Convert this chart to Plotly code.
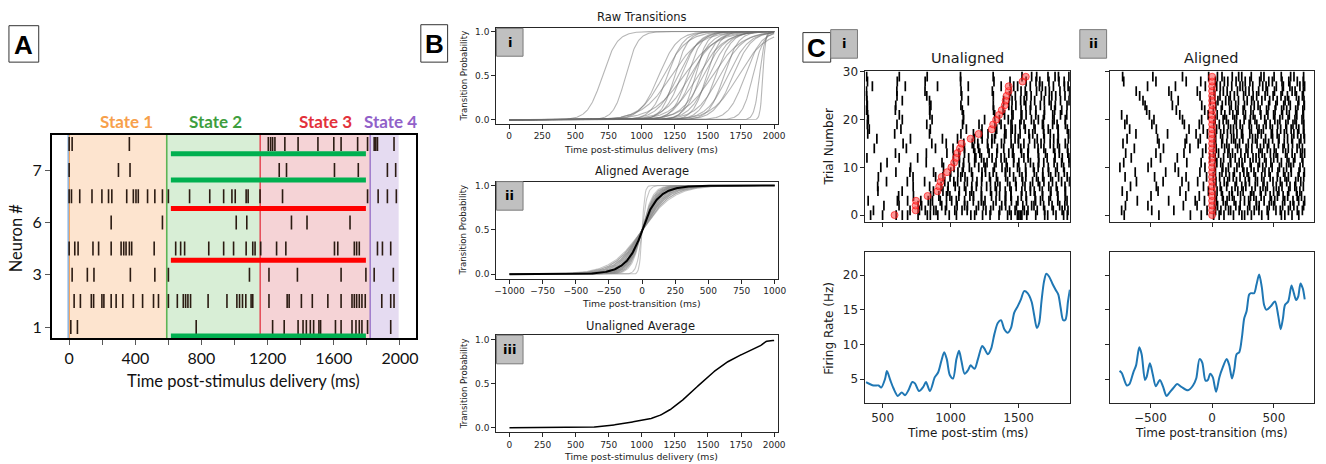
import numpy as np
import plotly.graph_objects as go

W, H = 1326, 464

# ======================= DATA =======================
# ---- Panel A: spike raster of 8 neurons (ms) ----
neuron_spikes_ms = [
    [10, 50, 768, 1230, 1300, 1384, 1414, 1434, 1458, 1478, 1510, 1520, 1610, 1644, 1710, 1734, 1754, 1770, 1804, 1944],
    [30, 68, 134, 148, 198, 210, 254, 284, 324, 388, 444, 510, 540, 600, 654, 690, 704, 718, 734, 840, 954, 1014, 1030,
     1048, 1068, 1100, 1110, 1208, 1318, 1330, 1404, 1470, 1564, 1644, 1710, 1724, 1738, 1754, 1770, 1790, 1890, 1944, 1964],
    [18, 110, 150, 370, 518, 600, 1090, 1208, 1380, 1644, 1794, 1844, 1960],
    [0, 34, 54, 144, 178, 254, 314, 330, 344, 364, 378, 514, 644, 674, 698, 844, 934, 994, 1070, 1110, 1124, 1158, 1254,
     1310, 1604, 1624, 1724, 1738, 1754, 1864, 1894, 1944],
    [254, 564, 1010, 1074, 1344, 1438, 1698],
    [0, 14, 64, 138, 198, 238, 258, 348, 388, 404, 418, 474, 518, 564, 600, 728, 850, 934, 984, 1004, 1070, 1082, 1154,
     1290, 1804, 1868, 1924, 1978],
    [0, 298, 368, 1270, 1314, 1604, 1748, 1924, 1974],
    [0, 18, 364, 1204, 1218, 1230, 1244, 1304, 1384, 1504, 1600, 1644, 1744, 1804, 1844, 1854, 1864, 1964],
]
neuron_tickvals = [1, 3, 5, 7]
neuron_ticktext = ["1", "3", "6", "7"]
a_xticks = [0, 400, 800, 1200, 1600, 2000]
a_minor_ticks = [200, 600, 1000, 1400, 1800]

state_names = ["State 1", "State 2", "State 3", "State 4"]
state_starts = [0, 590, 1155, 1820]
state_ends = [590, 1155, 1820, 1992]
state_label_x = [348, 884, 1550, 1944]
state_fill = ["#fde4cf", "#d8eed6", "#f5d3d6", "#e5dbf1"]
state_line = ["#f3a35c", "#5db456", "#e5505c", "#a27fcd"]
state_text = ["#f7a04b", "#3e9e3e", "#e3313b", "#9161c9"]
stim_line_ms = -6
stim_line_color = "#86b3e3"

bar_rows = [7.62, 6.62, 5.53, 3.55, 0.66]
bar_colors = ["#00b050", "#00b050", "#ff0000", "#ff0000", "#00b050"]
bar_start_ms = 615
bar_end_ms = 1794

# ---- Panel B: per-trial transition curves (centre ms, width ms) ----
trans_centers = [705, 880, 1130, 1165, 1195, 1225, 1250, 1275, 1300, 1320, 1345, 1365, 1385, 1405, 1425,
                 1445, 1465, 1490, 1510, 1535, 1560, 1590, 1620, 1650, 1690, 1730, 1780, 1840, 1890, 1915]
trans_widths = [55, 45, 70, 90, 60, 110, 50, 80, 65, 120, 55, 95, 70, 45, 100,
                60, 85, 50, 75, 110, 60, 90, 55, 80, 70, 100, 60, 40, 20, 10]
b_time_grid = np.arange(0, 2001, 5)
b_aligned_grid = np.arange(-1000, 1001, 5)

# ---- Panel C: 30 trials, transition time and spike offsets from transition (ms) ----
trial_transition = [588, 743, 743, 746, 831, 904, 916, 926, 935, 974, 1006, 1026, 1040, 1050, 1069,
                    1081, 1147, 1206, 1303, 1313, 1335, 1356, 1376, 1398, 1405, 1412, 1427, 1427, 1529, 1553]
trial_spike_offsets = [
    [-712, -431, -176, -88, 12, 57, 96, 173, 241, 263, 318, 402, 455, 561, 589, 647, 702, 768, 831, 857, 903, 914, 925, 936, 972, 1038, 1104, 1126, 1187, 1243, 1270],
    [-733, -489, -310, -41, 28, 71, 133, 150, 219, 288, 341, 379, 446, 517, 552, 618, 690, 731, 799, 826, 894, 948, 1012, 1077, 1120],
    [-702, -520, -233, -122, 18, 44, 109, 192, 227, 305, 360, 381, 462, 498, 571, 633, 662, 741, 788, 853, 870, 941, 1003, 1059, 1097],
    [-606, -352, -137, -62, 35, 90, 121, 178, 262, 296, 357, 421, 480, 507, 588, 655, 701, 749, 812, 879, 915, 977, 1042, 1110],
    [-690, -495, -213, -104, 22, 83, 139, 164, 230, 311, 338, 397, 470, 529, 575, 612, 689, 724, 790, 846, 903, 958, 1011],
    [-728, -438, -260, -30, 40, 75, 160, 208, 251, 322, 390, 433, 498, 541, 620, 683, 711, 770, 834, 880, 941],
    [-661, -452, -191, -70, 14, 66, 118, 186, 240, 273, 349, 412, 447, 520, 566, 631, 670, 739, 806, 861, 925],
    [-613, -397, -244, -117, 31, 98, 126, 197, 268, 302, 367, 420, 493, 552, 604, 677, 718, 760, 823, 890, 948],
    [-705, -466, -211, -45, 9, 61, 140, 171, 226, 295, 351, 402, 470, 528, 590, 618, 697, 742, 801, 859, 922],
    [-623, -376, -273, -99, 27, 80, 112, 180, 257, 283, 339, 428, 461, 533, 579, 641, 704, 747, 798, 862],
    [-747, -519, -300, -58, 19, 87, 132, 201, 248, 316, 372, 410, 486, 545, 603, 638, 712, 778, 825],
    [-716, -493, -205, -89, 38, 70, 151, 219, 242, 308, 383, 437, 476, 561, 622, 659, 735, 790, 845],
    [-655, -418, -282, -19, 25, 93, 146, 187, 265, 331, 356, 425, 499, 530, 607, 670, 728, 781, 830],
    [-700, -455, -228, -77, 11, 52, 128, 165, 233, 290, 378, 405, 472, 518, 595, 648, 716, 749, 812],
    [-630, -394, -180, -51, 33, 101, 137, 206, 275, 322, 391, 447, 503, 574, 617, 688, 731, 790],
    [-722, -430, -219, -113, 16, 78, 119, 190, 222, 293, 364, 418, 458, 537, 584, 651, 706, 762],
    [-689, -442, -207, -96, 29, 85, 157, 176, 249, 327, 351, 433, 490, 542, 611, 645, 719, 748],
    [-815, -617, -361, -130, -38, 20, 69, 124, 201, 238, 305, 370, 398, 479, 527, 585, 662, 693, 744],
    [-901, -668, -452, -187, -72, 36, 95, 150, 173, 246, 318, 380, 415, 488, 555, 603, 640, 702, 739],
    [-925, -707, -488, -225, -104, 13, 58, 131, 196, 227, 300, 362, 437, 470, 531, 597, 655, 682, 743],
    [-940, -690, -471, -240, -85, 24, 89, 116, 183, 259, 310, 347, 426, 508, 549, 615, 671, 728],
    [-966, -733, -508, -262, -32, 41, 103, 168, 199, 270, 333, 395, 452, 498, 570, 625, 686, 740],
    [-995, -782, -530, -290, -60, 10, 74, 142, 210, 251, 314, 389, 441, 510, 563, 604, 677, 735],
    [-1010, -801, -543, -322, -84, 30, 82, 155, 191, 262, 341, 372, 458, 516, 580, 633, 695, 747],
    [-1020, -760, -560, -275, -15, 47, 110, 136, 213, 284, 320, 403, 466, 527, 591, 620, 702, 744],
    [-1030, -806, -587, -330, -98, 21, 64, 147, 180, 255, 332, 361, 429, 494, 558, 610, 683, 731],
    [-1045, -822, -615, -350, -120, 15, 91, 122, 205, 271, 299, 377, 448, 505, 569, 648, 672, 739],
    [-1002, -760, -523, -297, -55, 37, 66, 159, 226, 247, 329, 410, 437, 520, 577, 630, 711, 749],
    [-1140, -921, -716, -455, -210, -92, 26, 99, 127, 194, 268, 306, 385, 459, 488, 566, 621, 690, 738],
    [-1170, -930, -725, -480, -240, -28, 43, 80, 163, 215, 240, 317, 396, 420, 502, 560, 636, 663, 741],
]
aligned_window_ms = 750

rate_unaligned_t = [378, 434, 471, 490, 519, 532, 556, 580, 612, 641, 665, 690, 719, 738, 768, 799, 819, 848, 884, 909,
                    933, 953, 972, 994, 1018, 1043, 1062, 1079, 1103, 1128, 1147, 1176, 1201, 1232, 1249, 1274, 1298,
                    1322, 1347, 1371, 1395, 1420, 1444, 1468, 1493, 1517, 1541, 1566, 1595, 1614, 1634, 1651, 1668,
                    1687, 1704, 1724, 1748, 1772, 1792, 1809, 1828, 1845, 1863, 1877]
rate_unaligned_hz = [4.6, 4.1, 4.1, 3.8, 5.1, 6.2, 4.9, 3.7, 2.6, 3.1, 2.7, 3.4, 4.6, 4.4, 3.3, 3.9, 4.6, 3.3, 5.3, 6.0,
                     7.7, 8.9, 7.9, 5.6, 5.1, 7.9, 9.1, 7.7, 5.8, 6.3, 7.0, 6.5, 7.9, 9.8, 9.4, 8.6, 9.4, 11.5, 13.1,
                     13.5, 12.2, 11.7, 12.4, 14.6, 15.5, 16.5, 17.7, 17.4, 16.2, 14.3, 12.4, 13.1, 16.2, 19.1, 20.2,
                     19.8, 18.8, 17.9, 17.2, 15.3, 13.5, 13.6, 16.2, 17.9]
rate_aligned_t = [-750, -732, -691, -670, -638, -616, -590, -571, -544, -531, -504, -482, -456, -423, -397, -370, -348,
                  -316, -284, -249, -196, -155, -129, -102, -80, -54, -35, -16, 5, 32, 59, 86, 118, 139, 161, 180,
                  198, 220, 241, 260, 279, 300, 314, 340, 359, 381, 402, 421, 440, 474, 509, 536, 555, 574, 590,
                  616, 643, 662, 681, 697, 716, 734, 750]
rate_aligned_hz = [6.2, 5.9, 4.1, 4.3, 6.0, 7.0, 9.6, 8.6, 4.9, 5.3, 7.3, 5.8, 4.0, 4.9, 3.9, 2.6, 3.0, 3.7, 4.3, 3.9,
                   3.4, 4.1, 5.1, 7.9, 7.4, 4.8, 4.9, 5.8, 5.3, 3.2, 5.3, 6.7, 7.9, 7.0, 5.1, 6.5, 8.6, 8.9, 11.0,
                   13.8, 14.8, 17.2, 17.4, 17.4, 18.6, 20.1, 18.3, 15.7, 15.0, 15.5, 16.2, 14.1, 12.2, 13.8, 15.7,
                   16.2, 18.5, 17.4, 16.4, 16.9, 18.8, 18.1, 16.5]

# ======================= HELPERS =======================
def dx(l, r):
    return [l / W, r / W]

def dy(top, bottom):
    return [1 - bottom / H, 1 - top / H]

def px(x):
    return x / W

def py(y):
    return 1 - y / H

def logistic(t, c, w):
    return 1.0 / (1.0 + np.exp(-(t - c) / w))

DV = "DejaVu Sans"
LATO = "Lato"
INK = "#262626"

def mpl_axis(size=9, **kw):
    d = dict(showline=True, mirror=True, linecolor=INK, linewidth=1, ticks="outside", ticklen=4, tickwidth=1,
             tickcolor=INK, showgrid=False, zeroline=False,
             tickfont=dict(family=DV, size=size, color=INK))
    d.update(kw)
    return d

fig = go.Figure()
shapes = []
annotations = []

# ======================= PANEL A =======================
for i in range(4):
    shapes.append(dict(type="rect", xref="x", yref="y domain", x0=state_starts[i], x1=state_ends[i], y0=0, y1=1,
                       fillcolor=state_fill[i], line=dict(width=0), layer="below"))
    shapes.append(dict(type="line", xref="x", yref="y domain", x0=state_starts[i], x1=state_starts[i], y0=0, y1=1,
                       line=dict(color=state_line[i], width=1.6), layer="below"))
    annotations.append(dict(text="<b>%s</b>" % state_names[i], xref="x", yref="paper", x=state_label_x[i],
                            y=py(117), showarrow=False, font=dict(family=LATO, size=17, color=state_text[i]),
                            xanchor="center", yanchor="middle"))
shapes.append(dict(type="line", xref="x", yref="y domain", x0=stim_line_ms, x1=stim_line_ms, y0=0, y1=1,
                   line=dict(color=stim_line_color, width=1.4), layer="below"))

ax_x, ax_y = [], []
for r, spikes in enumerate(neuron_spikes_ms):
    ax_x += spikes
    ax_y += [r + 1] * len(spikes)
fig.add_trace(go.Scatter(x=ax_x, y=ax_y, mode="markers", xaxis="x", yaxis="y",
                         marker=dict(symbol="line-ns", size=10, line=dict(width=1.6, color="#2b1b12")),
                         hoverinfo="skip"))
for row, col in zip(bar_rows, bar_colors):
    fig.add_trace(go.Scatter(x=[bar_start_ms, bar_end_ms], y=[row, row], mode="lines", xaxis="x", yaxis="y",
                             line=dict(color=col, width=5), hoverinfo="skip"))

# ======================= PANEL B =======================
raw_curves = [logistic(b_time_grid, c, w) for c, w in zip(trans_centers, trans_widths)]
aligned_curves = [logistic(b_aligned_grid, 0.0, w) for w in trans_widths]
for cur in raw_curves:
    fig.add_trace(go.Scatter(x=b_time_grid, y=cur, mode="lines", xaxis="x2", yaxis="y2",
                             line=dict(color="rgba(110,110,110,0.5)", width=1.1), hoverinfo="skip"))
for cur in aligned_curves:
    fig.add_trace(go.Scatter(x=b_aligned_grid, y=cur, mode="lines", xaxis="x3", yaxis="y3",
                             line=dict(color="rgba(140,140,140,0.5)", width=1.1), hoverinfo="skip"))
fig.add_trace(go.Scatter(x=b_aligned_grid, y=np.mean(aligned_curves, axis=0), mode="lines", xaxis="x3", yaxis="y3",
                         line=dict(color="black", width=2), hoverinfo="skip"))
fig.add_trace(go.Scatter(x=b_time_grid, y=np.mean(raw_curves, axis=0), mode="lines", xaxis="x4", yaxis="y4",
                         line=dict(color="black", width=1.5), hoverinfo="skip"))

# ======================= PANEL C =======================
un_x, un_y, al_x, al_y = [], [], [], []
for k, (T, offs) in enumerate(zip(trial_transition, trial_spike_offsets)):
    for o in offs:
        un_x.append(T + o)
        un_y.append(k)
        if -aligned_window_ms <= o <= aligned_window_ms:
            al_x.append(o)
            al_y.append(k)
spk_marker = dict(symbol="line-ns", size=7, line=dict(width=1.7, color="black"))
dot_marker = dict(symbol="circle", size=7, color="rgba(255,70,70,0.55)", line=dict(width=1, color="rgba(255,0,0,0.6)"))
trials = list(range(len(trial_transition)))
fig.add_trace(go.Scatter(x=un_x, y=un_y, mode="markers", xaxis="x5", yaxis="y5", marker=spk_marker, hoverinfo="skip"))
fig.add_trace(go.Scatter(x=trial_transition, y=trials, mode="markers", xaxis="x5", yaxis="y5", marker=dot_marker,
                         hoverinfo="skip"))
fig.add_trace(go.Scatter(x=al_x, y=al_y, mode="markers", xaxis="x6", yaxis="y6", marker=spk_marker, hoverinfo="skip"))
fig.add_trace(go.Scatter(x=[T - T for T in trial_transition], y=trials, mode="markers", xaxis="x6", yaxis="y6",
                         marker=dot_marker, hoverinfo="skip"))
fig.add_trace(go.Scatter(x=rate_unaligned_t, y=rate_unaligned_hz, mode="lines", xaxis="x7", yaxis="y7",
                         line=dict(color="#1f77b4", width=2, shape="spline", smoothing=0.8), hoverinfo="skip"))
fig.add_trace(go.Scatter(x=rate_aligned_t, y=rate_aligned_hz, mode="lines", xaxis="x8", yaxis="y8",
                         line=dict(color="#1f77b4", width=2, shape="spline", smoothing=0.8), hoverinfo="skip"))

# ======================= AXES =======================
layout_axes = dict(
    xaxis=dict(domain=dx(50, 417), range=[-106, 2096], anchor="y", showline=True, mirror=True, linecolor="black",
               linewidth=1.5, ticks="outside", ticklen=5, tickcolor="#595959", tickvals=a_xticks,
               minor=dict(tickvals=a_minor_ticks, ticks="outside", ticklen=5, tickcolor="#595959"),
               showgrid=False, zeroline=False, tickfont=dict(family=LATO, size=16, color="#111")),
    yaxis=dict(domain=dy(131, 337), range=[0.585, 8.34], anchor="x", showline=True, mirror=True, linecolor="black",
               linewidth=1.5, ticks="outside", ticklen=5, tickcolor="#595959", tickvals=neuron_tickvals,
               ticktext=neuron_ticktext, showgrid=False, zeroline=False,
               tickfont=dict(family=LATO, size=16, color="#111")),
    xaxis2=mpl_axis(domain=dx(498, 782), range=[-97, 2030], anchor="y2", dtick=250, tick0=0),
    yaxis2=mpl_axis(domain=dy(22.7, 119.3), range=[-0.042, 1.035], anchor="x2", tickvals=[0, 0.5, 1.0],
                    tickformat=".1f"),
    xaxis3=mpl_axis(domain=dx(498, 782), range=[-1100, 1025], anchor="y3", dtick=250, tick0=0),
    yaxis3=mpl_axis(domain=dy(178.3, 276.7), range=[-0.049, 1.044], anchor="x3", tickvals=[0, 0.5, 1.0],
                    tickformat=".1f"),
    xaxis4=mpl_axis(domain=dx(498, 782), range=[-100, 2030], anchor="y4", dtick=250, tick0=0),
    yaxis4=mpl_axis(domain=dy(334.3, 432.7), range=[-0.049, 1.053], anchor="x4", tickvals=[0, 0.5, 1.0],
                    tickformat=".1f"),
    xaxis5=mpl_axis(size=12, domain=dx(870, 1076), range=[374, 1877], anchor="y5", tickvals=[500, 1000, 1500],
                    showticklabels=False),
    yaxis5=mpl_axis(size=12, domain=dy(66, 219.3), range=[-1.45, 30.2], anchor="x5", tickvals=[0, 10, 20, 30]),
    xaxis6=mpl_axis(size=12, domain=dx(1116.7, 1321.7), range=[-825, 823], anchor="y6", tickvals=[-500, 0, 500],
                    showticklabels=False),
    yaxis6=mpl_axis(size=12, domain=dy(66, 219.3), range=[-1.45, 30.2], anchor="x6", tickvals=[0, 10, 20, 30],
                    showticklabels=False),
    xaxis7=mpl_axis(size=12, domain=dx(870, 1076), range=[374, 1877], anchor="y7", tickvals=[500, 1000, 1500]),
    yaxis7=mpl_axis(size=12, domain=dy(249.3, 402.7), range=[1.63, 23.4], anchor="x7", tickvals=[5, 10, 15, 20]),
    xaxis8=mpl_axis(size=12, domain=dx(1116.7, 1321.7), range=[-825, 823], anchor="y8", tickvals=[-500, 0, 500]),
    yaxis8=mpl_axis(size=12, domain=dy(249.3, 402.7), range=[1.63, 23.4], anchor="x8", tickvals=[5, 10, 15, 20],
                    showticklabels=False),
)

# ======================= TEXT =======================
def txt(text, x, y, size, family=DV, color="#1a1a1a", angle=0):
    annotations.append(dict(text=text, xref="paper", yref="paper", x=px(x), y=py(y), showarrow=False,
                            textangle=angle, font=dict(family=family, size=size, color=color),
                            xanchor="center", yanchor="middle"))

# Panel A titles
txt("Time post-stimulus delivery (ms)", 243, 381, 16.5, LATO, "#111")
txt("Neuron #", 15, 235, 16.5, LATO, "#111", -90)
# Panel B titles
txt("Raw Transitions", 644, 11, 11.5)
txt("Aligned Average", 645, 168, 11.5)
txt("Unaligned Average", 643, 325, 11.5)
for yy, lab in [(145.5, "Time post-stimulus delivery (ms)"), (302, "Time post-transition (ms)"),
                (457, "Time post-stimulus delivery (ms)")]:
    txt(lab, 644, yy, 9.3)
for yy in [71, 227.5, 383.5]:
    txt("Transition Probability", 465, yy, 8.6, DV, "#1a1a1a", -90)
# Panel C titles
txt("Unaligned", 973, 53, 14.5)
txt("Aligned", 1219, 53, 14.5)
txt("Trial Number", 833, 143, 12, DV, "#1a1a1a", -90)
txt("Firing Rate (Hz)", 833, 327, 12, DV, "#1a1a1a", -90)
txt("Time post-stim (ms)", 973, 434, 12)
txt("Time post-transition (ms)", 1219, 434, 12)

# Panel letters (white boxes)
for lab, (x0, y0, x1, y1) in [("A", (7, 20, 37, 57)), ("B", (422, 19, 449, 57)), ("C", (807, 27, 835, 57))]:
    shapes.append(dict(type="rect", xref="paper", yref="paper", x0=px(x0), x1=px(x1), y0=py(y1), y1=py(y0),
                       fillcolor="white", line=dict(color="#333", width=1), layer="above"))
    txt("<b>%s</b>" % lab, (x0 + x1) / 2, (y0 + y1) / 2 + 1, 26, "Liberation Sans", "black")

# Sub-panel roman numerals (grey boxes)
for lab, (x0, y0, x1, y1) in [("i", (498.3, 22.7, 525, 51)), ("ii", (498.3, 178.3, 525, 207.3)),
                              ("iii", (498.3, 334.3, 525, 363.3)), ("i", (835, 24, 862, 53)),
                              ("ii", (1086, 24, 1113, 53))]:
    shapes.append(dict(type="rect", xref="paper", yref="paper", x0=px(x0), x1=px(x1), y0=py(y1), y1=py(y0),
                       fillcolor="#c0c0c0", line=dict(color="#7a7a7a", width=1), layer="above"))
    txt("<b>%s</b>" % lab, (x0 + x1) / 2, (y0 + y1) / 2, 13, DV, "black")

fig.update_layout(width=W, height=H, margin=dict(l=0, r=0, t=0, b=0), paper_bgcolor="white",
                  plot_bgcolor="white", showlegend=False, shapes=shapes, annotations=annotations, **layout_axes)

fig.write_html("out.html", config={"displayModeBar": False},
               post_script="document.body.style.margin='0px';")
